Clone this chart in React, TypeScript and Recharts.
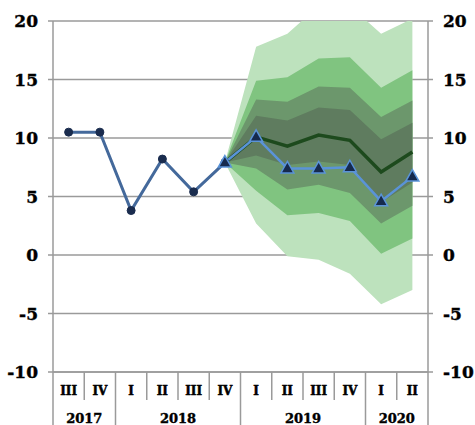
import { ComposedChart, Area, Line, XAxis, YAxis, CartesianGrid } from 'recharts';

const quarters = ['III', 'IV', 'I', 'II', 'III', 'IV', 'I', 'II', 'III', 'IV', 'I', 'II'];
const years = ['2017', '2018', '2019', '2020'];
const quartersPerYear = [2, 4, 4, 2];
const yTicks = [-10, -5, 0, 5, 10, 15, 20];

const history = [10.5, 10.5, 3.8, 8.2, 5.4, 7.9, null, null, null, null, null, null];
const forecast = [null, null, null, null, null, 7.9, 10.1, 7.4, 7.4, 7.5, 4.6, 6.7];
const central = [null, null, null, null, null, 7.9, 10.1, 9.3, 10.25, 9.8, 7.1, 8.8];

// fan bands, outer to inner (from 2018 IV on)
const outerHigh = [null, null, null, null, null, 7.9, 17.8, 18.9, 21.3, 21.3, 18.9, 20.2];
const outerLow = [null, null, null, null, null, 7.9, 2.7, -0.1, -0.4, -1.6, -4.2, -3.0];
const midHigh = [null, null, null, null, null, 7.9, 14.9, 15.2, 16.8, 16.9, 14.3, 15.8];
const midLow = [null, null, null, null, null, 7.9, 5.5, 3.4, 3.6, 2.9, 0.1, 1.4];
const innerHigh = [null, null, null, null, null, 7.9, 13.3, 13.1, 14.4, 14.3, 11.8, 13.2];
const innerLow = [null, null, null, null, null, 7.9, 7.4, 5.6, 6.0, 5.3, 2.7, 4.2];
const coreHigh = [null, null, null, null, null, 7.9, 11.9, 11.5, 12.6, 12.4, 9.9, 11.3];
const coreLow = [null, null, null, null, null, 7.9, 8.5, 7.7, 8.0, 7.7, 4.5, 6.2];

const band = (lo: (number | null)[], hi: (number | null)[], i: number) =>
  lo[i] == null || hi[i] == null ? null : [lo[i], hi[i]];

const data = quarters.map((q, i) => ({
  q,
  history: history[i],
  forecast: forecast[i],
  central: central[i],
  outer: band(outerLow, outerHigh, i),
  mid: band(midLow, midHigh, i),
  inner: band(innerLow, innerHigh, i),
  core: band(coreLow, coreHigh, i),
}));

const W = 475;
const H = 425;
const LEFT = 53;
const RIGHT = 47;
const BW = (W - LEFT - RIGHT) / quarters.length;
const GRAY = '#9a9a9a';
const FONT = '"DejaVu Serif", serif';

const yearStarts: number[] = [];
quartersPerYear.reduce((acc, n) => {
  yearStarts.push(acc);
  return acc + n;
}, 0);

const QuarterTick = (props: any) => {
  const { x, y, index } = props;
  const left = x - BW / 2;
  const yi = yearStarts.indexOf(index);
  const isLast = index === quarters.length - 1;
  return (
    <g>
      <line x1={left} y1={y} x2={left} y2={yi >= 0 ? H : y + 28} stroke={GRAY} strokeWidth={1.5} />
      {isLast && <line x1={x + BW / 2} y1={y} x2={x + BW / 2} y2={H} stroke={GRAY} strokeWidth={1.5} />}
      <text
        x={x}
        y={y + 23}
        textAnchor="middle"
        fontFamily={FONT}
        fontWeight="bold"
        fontSize={12}
        fill="#000"
        stroke="#000"
        strokeWidth={0.5}
      >
        {quarters[index]}
      </text>
      {yi >= 0 && (
        <text
          x={left + (quartersPerYear[yi] * BW) / 2}
          y={y + 51}
          textAnchor="middle"
          fontFamily={FONT}
          fontWeight="bold"
          fontSize={13}
          fill="#000"
          stroke="#000"
          strokeWidth={0.4}
        >
          {years[yi]}
        </text>
      )}
    </g>
  );
};

const yTickStyle = { fontFamily: FONT, fontWeight: 900, fontSize: 17, fill: '#000', stroke: '#000', strokeWidth: 0.4 };

export default function App() {
  return (
    <div style={{ position: 'absolute', left: 0, top: 0, background: '#fff' }}>
      <ComposedChart width={W} height={H} data={data} margin={{ top: 21, right: 0, bottom: 0, left: 0 }}>
        <XAxis
          dataKey="q"
          height={53}
          interval={0}
          padding={{ left: BW / 2, right: BW / 2 }}
          axisLine={{ stroke: GRAY, strokeWidth: 1.5 }}
          tickLine={false}
          tickSize={0}
          tickMargin={0}
          tick={<QuarterTick />}
        />
        <YAxis
          yAxisId="left"
          width={LEFT}
          domain={[-10, 20]}
          ticks={yTicks}
          allowDataOverflow
          axisLine={{ stroke: GRAY, strokeWidth: 1.5 }}
          tickLine={{ stroke: GRAY, strokeWidth: 1.5 }}
          tickSize={5}
          tickMargin={10}
          tick={yTickStyle}
        />
        <YAxis
          yAxisId="right"
          orientation="right"
          width={RIGHT}
          domain={[-10, 20]}
          ticks={yTicks}
          allowDataOverflow
          axisLine={{ stroke: GRAY, strokeWidth: 1.5 }}
          tickLine={{ stroke: GRAY, strokeWidth: 1.5 }}
          tickSize={5}
          tickMargin={10}
          tick={yTickStyle}
        />
        <Area yAxisId="left" type="linear" dataKey="outer" stroke="none" fill="#bde2bd" fillOpacity={1} isAnimationActive={false} />
        <Area yAxisId="left" type="linear" dataKey="mid" stroke="none" fill="#80c480" fillOpacity={1} isAnimationActive={false} />
        <Area yAxisId="left" type="linear" dataKey="inner" stroke="none" fill="#6c976c" fillOpacity={1} isAnimationActive={false} />
        <Area yAxisId="left" type="linear" dataKey="core" stroke="none" fill="#5f7c5f" fillOpacity={1} isAnimationActive={false} />
        <CartesianGrid yAxisId="left" vertical={false} stroke={GRAY} strokeWidth={1.5} />
        <Line
          yAxisId="left"
          type="linear"
          dataKey="central"
          stroke="#1d4a1d"
          strokeWidth={3.5}
          dot={false}
          isAnimationActive={false}
        />
        <Line
          yAxisId="left"
          type="linear"
          dataKey="history"
          stroke="#44699b"
          strokeWidth={3}
          dot={{ r: 4, fill: '#1a2c4e', stroke: '#1a2c4e', strokeWidth: 1 }}
          isAnimationActive={false}
        />
        <Line
          yAxisId="left"
          type="linear"
          dataKey="forecast"
          stroke="#5a93d8"
          strokeWidth={2.5}
          dot={(p: any) =>
            p.value == null ? (
              <g key={p.index} />
            ) : (
              <path
                key={p.index}
                d={`M${p.cx},${p.cy - 7} L${p.cx + 6.5},${p.cy + 4.5} L${p.cx - 6.5},${p.cy + 4.5} Z`}
                fill="#162a4d"
                stroke="#5a93d8"
                strokeWidth={1.5}
              />
            )
          }
          isAnimationActive={false}
        />
      </ComposedChart>
    </div>
  );
}
